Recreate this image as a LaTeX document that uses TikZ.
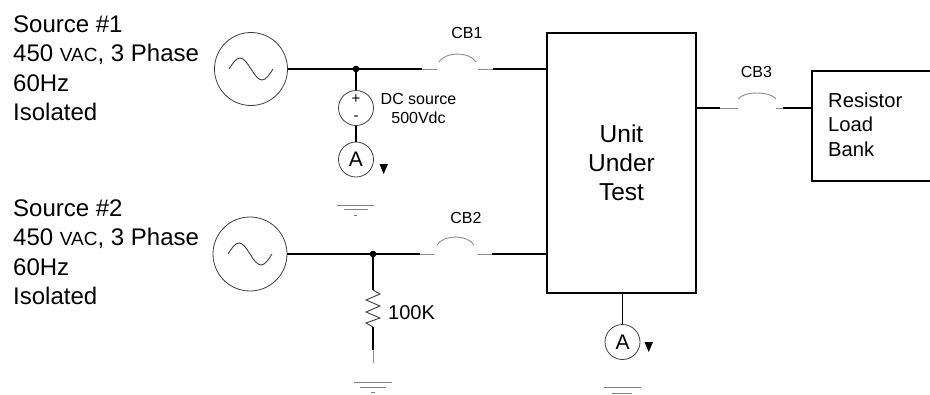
\documentclass[tikz,border=0pt]{standalone}
\usepackage{fontspec}
\setmainfont{Liberation Sans}
\begin{document}
\begin{tikzpicture}[x=1pt,y=-1pt,
  wire/.style={line width=1.4pt},
  faint/.style={line width=0.9pt, black!45},
  thin/.style={line width=0.9pt, black!75},
  gnd/.style={line width=0.8pt, black!50},
  sym/.style={circle, draw=black!75, line width=0.8pt, inner sep=0pt},
  lbl/.style={inner sep=0pt},
  tri/.style={fill=black}
]
\clip (0,0) rectangle (930,394);
\fill[white] (0,0) rectangle (930,394);

% ---- left texts
\node[lbl, anchor=north west, align=left, font=\fontsize{24}{29.3}\selectfont] (t1) at (13,15.5)
  {Source \#1\\450 {\fontsize{19}{19}\selectfont VAC}, 3 Phase\\60Hz\\Isolated};
\node[lbl, anchor=north west, align=left, font=\fontsize{24}{29.5}\selectfont] (t2) at (13,199.5)
  {Source \#2\\450 {\fontsize{19}{19}\selectfont VAC}, 3 Phase\\60Hz\\Isolated};

% ---- AC sources
\node[sym, minimum size=73pt] (src1) at (251,69) {};
\draw[thin] (229,69) sin (240,58) cos (251,69) sin (262,80) cos (273,69);
\node[sym, minimum size=74pt] (src2) at (250,254) {};
\draw[thin] (228,254) sin (239,243) cos (250,254) sin (261,265) cos (272,254);

% ---- Unit under test
\node[draw, line width=1.4pt, minimum width=149pt, minimum height=260pt, align=center,
      font=\fontsize{24.5}{29}\selectfont] (uut) at (621.5,163) {Unit\\Under\\Test};

% ---- Resistor load bank (open to the right edge)
\node[draw, line width=1.4pt, minimum width=138pt, minimum height=110pt] (rlb) at (881,126) {};
\node[lbl, anchor=west, align=left, font=\fontsize{20.2}{24.5}\selectfont] (rlbt) at (828,124.5)
  {Resistor\\Load\\Bank};

% ---- branch 1
\coordinate (j1) at (356,69);
\coordinate (cb1a) at (422,69);
\coordinate (cb1b) at (437,69);
\coordinate (cb1c) at (478,69);
\coordinate (cb1d) at (493,69);
\draw[wire] (src1.east) -- (j1) -- (cb1a);
\draw[faint] (cb1a) -- (cb1b);
\draw[faint] (cb1c) -- (cb1d);
\draw[wire] (cb1d) -- (uut.west |- cb1d);
\draw[faint] (439,62) .. controls (445,51.5) and (470,51.5) .. (476,62);
\node[lbl, font=\fontsize{16}{16}\selectfont] (cb1) at (467,33) {CB1};
\fill (j1) circle[radius=3.3];

% DC source
\node[sym, minimum size=35pt] (dc) at (356,108) {};
\node[lbl, font=\fontsize{15}{15}\selectfont] (plus) at (356,99) {+};
\node[lbl, font=\fontsize{15}{15}\selectfont] (minus) at (356,118) {-};
\node[lbl, align=center, font=\fontsize{16}{19}\selectfont] (dct) at (418.5,108.5) {DC source\\500Vdc};
\node[sym, minimum size=35pt, font=\fontsize{21}{21}\selectfont] (am1) at (356,159.5) {A};
\draw[wire] (j1) -- (dc.north);
\draw[wire] (dc.south) -- (am1.north);
\fill[tri] (379.5,164) -- (388,164) -- (383.7,174) -- cycle;
\coordinate (g1) at (355.5,205);
\draw[gnd] ([xshift=-18.5pt]g1) -- ([xshift=18.5pt]g1);
\draw[gnd] ([xshift=-12pt,yshift=-4.5pt]g1) -- ([xshift=12pt,yshift=-4.5pt]g1);
\draw[gnd] ([xshift=-1.5pt,yshift=-10pt]g1) -- ([xshift=1.5pt,yshift=-10pt]g1);

% ---- branch 2
\coordinate (j2) at (373,254);
\coordinate (cb2a) at (420,254);
\coordinate (cb2b) at (435,254);
\coordinate (cb2c) at (477,254);
\coordinate (cb2d) at (492,254);
\draw[wire] (src2.east) -- (j2) -- (cb2a);
\draw[faint] (cb2a) -- (cb2b);
\draw[faint] (cb2c) -- (cb2d);
\draw[wire] (cb2d) -- (uut.west |- cb2d);
\draw[faint] (437,245) .. controls (443,234.5) and (468,234.5) .. (474,245);
\node[lbl, font=\fontsize{16}{16}\selectfont] (cb2) at (466,218) {CB2};
\fill (j2) circle[radius=3.3];

% resistor 100K
\coordinate (r1t) at (373,290);
\coordinate (r1b) at (373,327);
\draw[wire] (j2) -- (r1t);
\draw[thin] (r1t) -- (380,294) -- (366,300) -- (380,306) -- (366,312) -- (380,318) -- (366,323) -- (r1b);
\draw[wire] (r1b) -- (373,350);
\draw[faint] (373,350) -- (373,363);
\node[lbl, anchor=west, font=\fontsize{20}{20}\selectfont] (r1l) at (388,313) {100K};
\coordinate (g2) at (373,382);
\draw[gnd] ([xshift=-19pt]g2) -- ([xshift=19pt]g2);
\draw[gnd] ([xshift=-13pt,yshift=-5pt]g2) -- ([xshift=13pt,yshift=-5pt]g2);
\draw[gnd] ([xshift=-2pt,yshift=-10pt]g2) -- ([xshift=2pt,yshift=-10pt]g2);

% ---- UUT bottom ammeter
\node[sym, minimum size=35pt, font=\fontsize{21}{21}\selectfont] (am2) at (622.5,342) {A};
\draw[wire] (uut.south -| am2.north) -- (am2.north);
\fill[tri] (644.5,342) -- (653,342) -- (648.7,352) -- cycle;
\coordinate (g3) at (622,387);
\draw[gnd] ([xshift=-18.5pt]g3) -- ([xshift=18.5pt]g3);
\draw[gnd] ([xshift=-10pt,yshift=-6pt]g3) -- ([xshift=10pt,yshift=-6pt]g3);

% ---- CB3 to load bank
\coordinate (cb3a) at (720,108);
\coordinate (cb3b) at (738,108);
\coordinate (cb3c) at (776,108);
\coordinate (cb3d) at (783,108);
\draw[wire] (uut.east |- cb3a) -- (cb3a);
\draw[faint] (cb3a) -- (cb3b);
\draw[faint] (cb3c) -- (cb3d);
\draw[wire] (cb3d) -- (rlb.west |- cb3d);
\draw[faint] (738,99) .. controls (744,91) and (770,91) .. (776,99);
\node[lbl, font=\fontsize{16}{16}\selectfont] (cb3) at (756.5,71.5) {CB3};
\end{tikzpicture}
\end{document}
